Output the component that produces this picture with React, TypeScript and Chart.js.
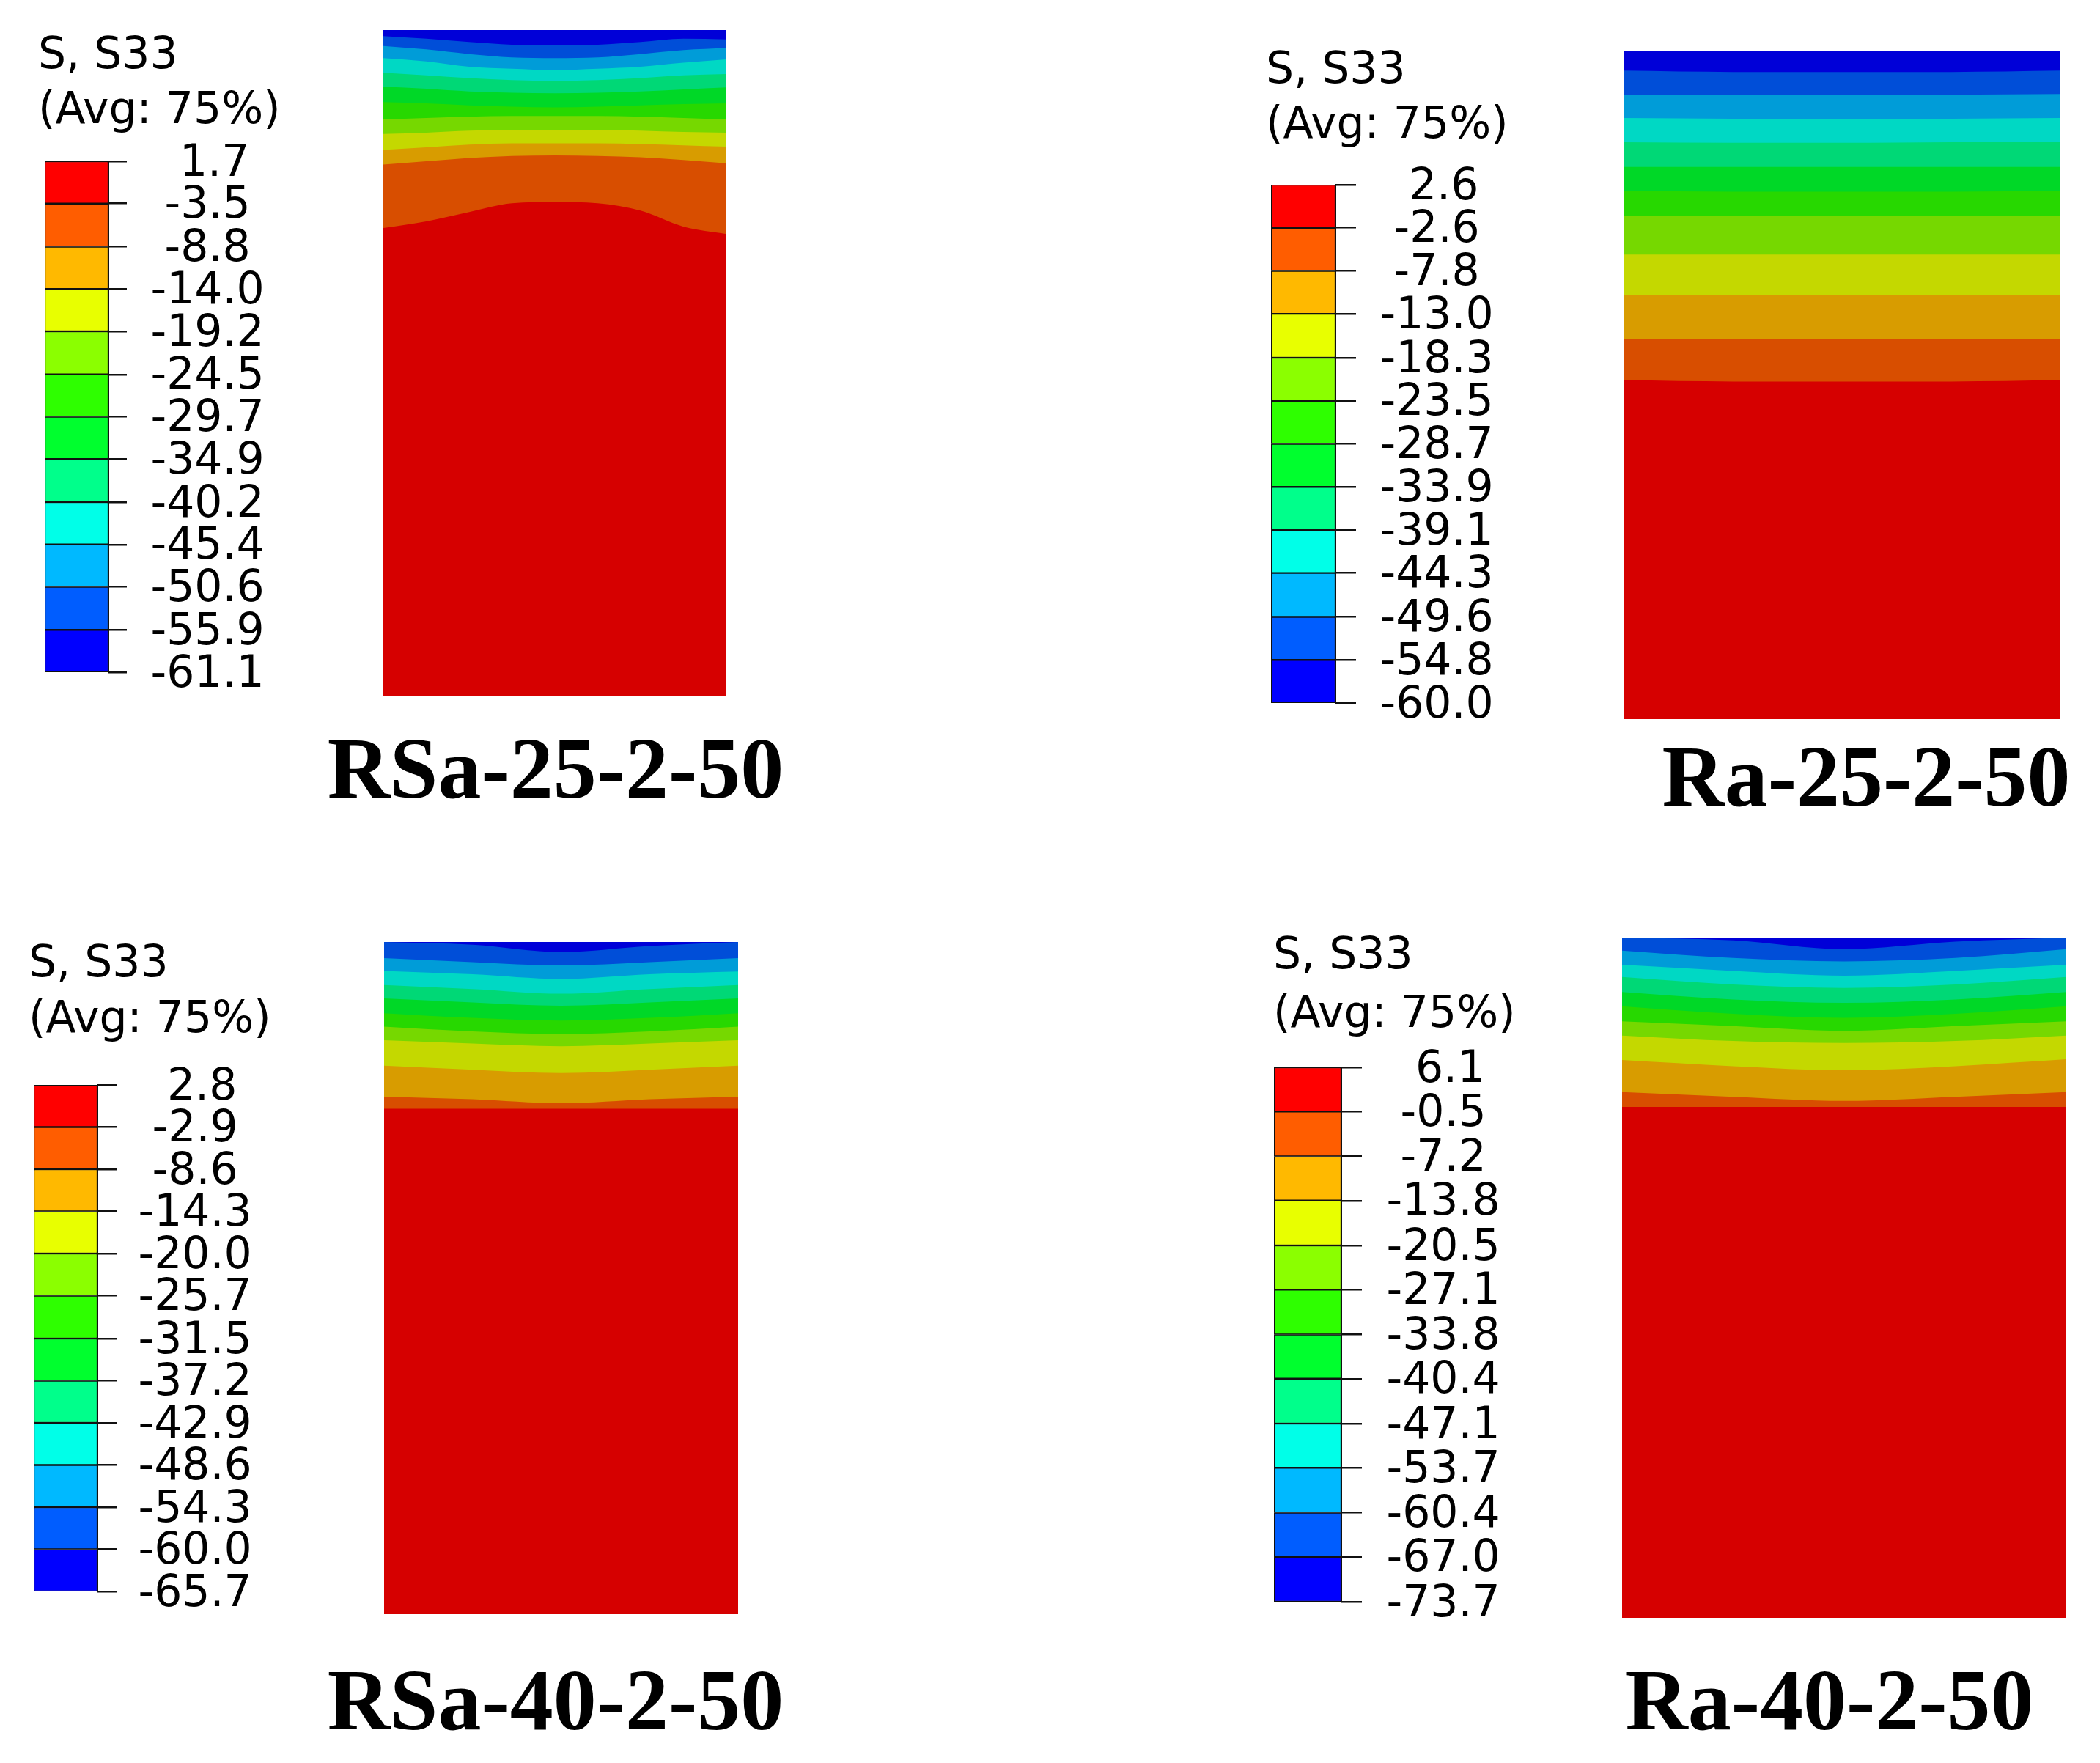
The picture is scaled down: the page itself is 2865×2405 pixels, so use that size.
import React, { useEffect, useRef } from "react";
import { Chart, registerables } from "chart.js";

Chart.register(...registerables);

// ---------------- DATA ----------------
// Contour level values of each legend, listed top (max) to bottom (min)
const LEVELS_RSA25 = [1.7, -3.5, -8.8, -14.0, -19.2, -24.5, -29.7, -34.9, -40.2, -45.4, -50.6, -55.9, -61.1];
const LEVELS_RA25 = [2.6, -2.6, -7.8, -13.0, -18.3, -23.5, -28.7, -33.9, -39.1, -44.3, -49.6, -54.8, -60.0];
const LEVELS_RSA40 = [2.8, -2.9, -8.6, -14.3, -20.0, -25.7, -31.5, -37.2, -42.9, -48.6, -54.3, -60.0, -65.7];
const LEVELS_RA40 = [6.1, -0.5, -7.2, -13.8, -20.5, -27.1, -33.8, -40.4, -47.1, -53.7, -60.4, -67.0, -73.7];

// Legend band colours, top (max) to bottom (min)
const LEGEND_COLORS = ["#FF0000", "#FF5D00", "#FFB900", "#E8FF00", "#8BFF00", "#2EFF00", "#00FF2E", "#00FF8B", "#00FFE8", "#00B9FF", "#005DFF", "#0000FF"];
// Shaded contour colours on the specimen, from its loaded top face downwards
const CONTOUR_COLORS = ["#0000D8", "#004ED8", "#009CD8", "#00D8C4", "#00D876", "#00D827", "#27D800", "#76D800", "#C4D800", "#D89C00", "#D84E00", "#D60000"];

// Horizontal stations across the specimen width (%)
const X_FINE = [0, 12.5, 25, 37.5, 50, 62.5, 75, 87.5, 100];
const X_COARSE = [0, 25, 50, 75, 100];
const BOTTOM_FACE = 100; // depth (%) of the specimen's bottom face

// Depth (% of height from the top face) of each contour boundary, top to bottom
const DEPTH_RSA25 = [
  [0.9, 1.3, 1.8, 2.2, 2.3, 2.2, 1.8, 1.3, 1.4],
  [2.4, 2.9, 3.6, 4.1, 4.2, 4.1, 3.6, 3.0, 2.7],
  [4.2, 4.7, 5.5, 5.8, 6.0, 5.8, 5.5, 4.9, 4.4],
  [6.4, 6.8, 7.2, 7.5, 7.6, 7.5, 7.2, 6.8, 6.6],
  [8.5, 8.8, 9.2, 9.4, 9.5, 9.4, 9.2, 8.9, 8.6],
  [10.8, 11.0, 11.3, 11.5, 11.6, 11.5, 11.3, 11.1, 11.0],
  [13.4, 13.2, 13.0, 12.9, 12.9, 12.9, 13.0, 13.2, 13.4],
  [15.6, 15.4, 15.1, 15.0, 15.0, 15.0, 15.1, 15.3, 15.4],
  [18.0, 17.6, 17.2, 17.0, 17.0, 17.0, 17.1, 17.3, 17.5],
  [20.2, 19.7, 19.2, 18.9, 18.8, 18.9, 19.1, 19.5, 20.0],
  [29.7, 28.7, 27.3, 26.0, 25.8, 26.0, 27.1, 29.5, 30.6],
];
const DEPTH_RA25 = [
  [3.0, 3.2, 3.2, 3.2, 3.0],
  [6.6, 6.6, 6.6, 6.6, 6.5],
  [10.1, 10.2, 10.2, 10.2, 10.1],
  [13.7, 13.8, 13.8, 13.7, 13.7],
  [17.4, 17.4, 17.4, 17.4, 17.4],
  [21.0, 21.1, 21.1, 21.1, 21.0],
  [24.7, 24.7, 24.7, 24.7, 24.7],
  [30.5, 30.5, 30.5, 30.5, 30.5],
  [36.5, 36.5, 36.5, 36.5, 36.5],
  [43.1, 43.1, 43.1, 43.1, 43.1],
  [49.3, 49.5, 49.5, 49.5, 49.3],
];
const DEPTH_RSA40 = [
  [0.0, 0.4, 1.5, 0.6, 0.0],
  [2.4, 3.0, 3.5, 3.0, 2.4],
  [4.3, 4.8, 5.5, 4.8, 4.4],
  [6.4, 7.0, 7.7, 7.0, 6.4],
  [8.4, 9.0, 9.5, 9.0, 8.4],
  [10.6, 11.3, 11.7, 11.3, 10.6],
  [12.6, 13.3, 13.7, 13.3, 12.6],
  [14.6, 15.1, 15.5, 15.1, 14.6],
  [18.4, 19.0, 19.5, 19.0, 18.4],
  [23.0, 23.4, 24.0, 23.4, 23.0],
  [24.8, 24.8, 24.8, 24.8, 24.8],
];
const DEPTH_RA40 = [
  [0.0, 0.4, 1.7, 0.6, 0.0],
  [1.9, 3.0, 3.5, 3.0, 1.7],
  [4.0, 4.9, 5.6, 4.9, 4.0],
  [5.8, 6.9, 7.4, 6.9, 5.8],
  [8.0, 9.1, 9.6, 9.1, 8.0],
  [10.1, 11.2, 11.8, 11.2, 10.1],
  [12.3, 13.0, 13.7, 13.0, 12.3],
  [14.4, 15.2, 15.5, 15.2, 14.4],
  [18.0, 18.9, 19.5, 18.9, 17.9],
  [22.7, 23.4, 24.0, 23.4, 22.7],
  [24.9, 24.9, 24.9, 24.9, 24.9],
];

const NAMES = ["RSa-25-2-50", "Ra-25-2-50", "RSa-40-2-50", "Ra-40-2-50"];
const TITLE = "S, S33";
const SUBTITLE = "(Avg: 75%)";

// ---------------- LAYOUT ----------------
const LEGEND_FONT = "'DejaVu Sans', Verdana, sans-serif";
const LABEL_FONT = "'Liberation Serif', 'Times New Roman', serif";
const FS = 60;
const TITLE_LH = 1.1;
const LINE = FS * TITLE_LH;
const LABEL_WIDEST = 155;
const BOTTOM_PAD = 90;

const PANELS = [
  {
    name: NAMES[0], levels: LEVELS_RSA25, depths: DEPTH_RSA25, xs: X_FINE,
    legend: { left: 52, titleY: 77, subY: 152, barLeft: 61, barRight: 148, barTop: 220, barBottom: 917, tickEnd: 173, labelCenter: 283 },
    plot: { left: 523, top: 41, width: 468, height: 909 },
    label: { cx: 758, cy: 1050 },
  },
  {
    name: NAMES[1], levels: LEVELS_RA25, depths: DEPTH_RA25, xs: X_COARSE,
    legend: { left: 1727, titleY: 97, subY: 172, barLeft: 1734, barRight: 1822, barTop: 252, barBottom: 959, tickEnd: 1850, labelCenter: 1960 },
    plot: { left: 2216, top: 69, width: 594, height: 912 },
    label: { cx: 2546, cy: 1061 },
  },
  {
    name: NAMES[2], levels: LEVELS_RSA40, depths: DEPTH_RSA40, xs: X_COARSE,
    legend: { left: 39, titleY: 1316, subY: 1392, barLeft: 46, barRight: 133, barTop: 1480, barBottom: 2171, tickEnd: 160, labelCenter: 266 },
    plot: { left: 524, top: 1285, width: 483, height: 917 },
    label: { cx: 758, cy: 2321 },
  },
  {
    name: NAMES[3], levels: LEVELS_RA40, depths: DEPTH_RA40, xs: X_COARSE,
    legend: { left: 1737, titleY: 1305, subY: 1385, barLeft: 1738, barRight: 1830, barTop: 1456, barBottom: 2185, tickEnd: 1858, labelCenter: 1969 },
    plot: { left: 2213, top: 1279, width: 606, height: 928 },
    label: { cx: 2496, cy: 2321 },
  },
];

function LegendBar({ p }: { p: any }) {
  const ref = useRef<HTMLCanvasElement>(null);
  const lg = p.legend;
  const T = Math.floor(lg.titleY - LINE / 2);
  const titlePT = lg.titleY - LINE / 2 - T;
  const titlePB = lg.subY - lg.titleY - LINE;
  const subPB = lg.barTop - lg.subY - LINE / 2;
  const H = Math.ceil(lg.barBottom + BOTTOM_PAD - T);
  const W = Math.ceil(lg.labelCenter + LABEL_WIDEST / 2 + 40 - lg.left);
  const padW = lg.barLeft - lg.left;
  const axisW = W - (lg.barRight - lg.left);
  const tickLen = lg.tickEnd - lg.barRight;
  const tickPad = lg.labelCenter - lg.tickEnd - LABEL_WIDEST / 2;
  const bottomPad = H - (lg.barBottom - T);

  useEffect(() => {
    const levels: number[] = p.levels;
    const datasets = LEGEND_COLORS.map((color, k) => ({
      label: `${levels[k + 1]}..${levels[k]}`,
      data: [[levels[k + 1], levels[k]]],
      backgroundColor: color,
      borderColor: "#111",
      borderWidth: 1.5,
      borderSkipped: false,
      grouped: false,
      barPercentage: 1,
      categoryPercentage: 1,
      yAxisID: "y",
    }));
    const chart = new Chart(ref.current as HTMLCanvasElement, {
      type: "bar",
      data: { labels: ["S33"], datasets: datasets as any },
      options: {
        responsive: false,
        animation: false,
        devicePixelRatio: 1,
        events: [],
        layout: { autoPadding: false, padding: { left: 0, right: 0, top: titlePT, bottom: bottomPad } },
        plugins: {
          legend: { display: false },
          tooltip: { enabled: false },
          title: {
            display: true, text: TITLE, align: "start", color: "#000",
            font: { family: LEGEND_FONT, size: FS, weight: "normal", lineHeight: TITLE_LH },
            padding: { top: 0, bottom: titlePB },
          },
          subtitle: {
            display: true, text: SUBTITLE, align: "start", color: "#000",
            font: { family: LEGEND_FONT, size: FS, weight: "normal", lineHeight: TITLE_LH },
            padding: { top: 0, bottom: subPB },
          },
        },
        scales: {
          x: { type: "category", display: false, offset: true },
          pad: {
            type: "linear", axis: "y", position: "left", display: true,
            grid: { display: false }, ticks: { display: false }, border: { display: false },
            afterFit: (s: any) => { s.width = padW; },
          },
          y: {
            type: "linear", position: "right",
            min: levels[levels.length - 1], max: levels[0],
            afterBuildTicks: (s: any) => { s.ticks = levels.map((v) => ({ value: v })); },
            afterFit: (s: any) => { s.width = axisW; },
            ticks: {
              autoSkip: false, padding: tickPad, crossAlign: "center", color: "#000",
              labelOffset: 4,
              font: { family: LEGEND_FONT, size: FS, lineHeight: 1 },
              callback: (v: any) => (Number(v) >= 0 ? " " : "") + Number(v).toFixed(1),
            },
            grid: { display: true, drawOnChartArea: false, drawTicks: true, tickLength: tickLen, color: "#111", lineWidth: 2.5 },
            border: { display: true, color: "#111", width: 2 },
          },
        } as any,
      },
    });
    return () => chart.destroy();
  }, []);

  return (
    <canvas
      ref={ref}
      width={W}
      height={H}
      style={{ position: "absolute", left: lg.left, top: T, width: W, height: H }}
    />
  );
}

function ContourPlot({ p }: { p: any }) {
  const ref = useRef<HTMLCanvasElement>(null);
  const pl = p.plot;
  useEffect(() => {
    const xs: number[] = p.xs;
    const datasets = CONTOUR_COLORS.map((color, k) => {
      const row: number[] = k < p.depths.length ? p.depths[k] : xs.map(() => BOTTOM_FACE);
      return {
        label: `band ${k}`,
        data: xs.map((x, i) => ({ x, y: row[i] })),
        backgroundColor: color,
        borderColor: color,
        borderWidth: 0,
        pointRadius: 0,
        pointHoverRadius: 0,
        fill: { value: 0 },
        cubicInterpolationMode: "monotone",
      };
    });
    const chart = new Chart(ref.current as HTMLCanvasElement, {
      type: "line",
      data: { datasets: datasets as any },
      options: {
        responsive: false,
        animation: false,
        devicePixelRatio: 1,
        events: [],
        layout: { autoPadding: false, padding: 0 },
        plugins: { legend: { display: false }, tooltip: { enabled: false }, title: { display: false } },
        scales: {
          x: { type: "linear", min: 0, max: 100, display: false },
          y: { type: "linear", min: 0, max: 100, reverse: true, display: false },
        },
      },
    });
    return () => chart.destroy();
  }, []);
  return (
    <canvas
      ref={ref}
      width={pl.width}
      height={pl.height}
      style={{ position: "absolute", left: pl.left, top: pl.top, width: pl.width, height: pl.height }}
    />
  );
}

function Panel({ p }: { p: any }) {
  return (
    <>
      <LegendBar p={p} />
      <ContourPlot p={p} />
      <div
        style={{
          position: "absolute",
          left: p.label.cx - 450,
          width: 900,
          top: p.label.cy - 60,
          height: 118,
          lineHeight: "118px",
          fontSize: 118,
          fontWeight: 700,
          fontFamily: LABEL_FONT,
          color: "#000",
          textAlign: "center",
          whiteSpace: "nowrap",
        }}
      >
        {p.name}
      </div>
    </>
  );
}

export default function App() {
  return (
    <div
      style={{
        position: "absolute",
        left: 0,
        top: 0,
        width: 2865,
        height: 2405,
        background: "#fff",
        overflow: "hidden",
      }}
    >
      {PANELS.map((p) => (
        <Panel key={p.name} p={p} />
      ))}
    </div>
  );
}
